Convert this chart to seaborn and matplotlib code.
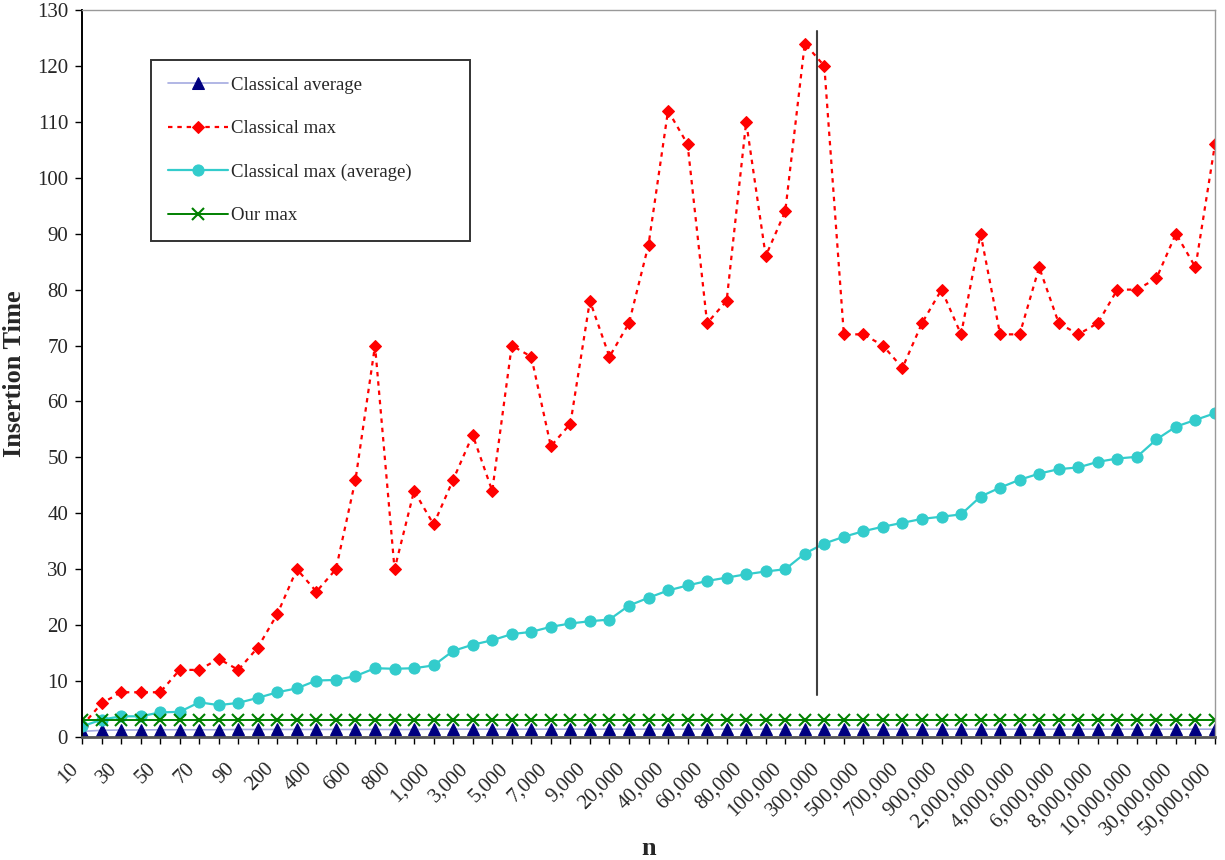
import pandas as pd
import seaborn as sns
import matplotlib.pyplot as plt

# n values on the (categorical) x axis
n_values = [10, 20, 30, 40, 50, 60, 70, 80, 90,
            100, 200, 300, 400, 500, 600, 700, 800, 900,
            1000, 2000, 3000, 4000, 5000, 6000, 7000, 8000, 9000,
            10000, 20000, 30000, 40000, 50000, 60000, 70000, 80000, 90000,
            100000, 200000, 300000, 400000, 500000, 600000, 700000, 800000, 900000,
            1000000, 2000000, 3000000, 4000000, 5000000, 6000000, 7000000, 8000000, 9000000,
            10000000, 20000000, 30000000, 40000000, 50000000]

classical_avg = [1.0, 1.2, 1.25, 1.25, 1.3, 1.3, 1.3, 1.3, 1.35,
                 1.35, 1.35, 1.35, 1.35, 1.35, 1.35, 1.35, 1.35, 1.35,
                 1.4, 1.4, 1.4, 1.4, 1.4, 1.4, 1.4, 1.4, 1.4,
                 1.4, 1.4, 1.4, 1.4, 1.4, 1.4, 1.4, 1.4, 1.4,
                 1.4, 1.4, 1.4, 1.4, 1.4, 1.4, 1.4, 1.4, 1.4,
                 1.4, 1.4, 1.4, 1.4, 1.4, 1.4, 1.4, 1.4, 1.4,
                 1.4, 1.4, 1.4, 1.4, 1.4]

classical_max = [2, 6, 8, 8, 8, 12, 12, 14, 12,
                 16, 22, 30, 26, 30, 46, 70, 30, 44,
                 38, 46, 54, 44, 70, 68, 52, 56, 78,
                 68, 74, 88, 112, 106, 74, 78, 110, 86,
                 94, 124, 120, 72, 72, 70, 66, 74, 80,
                 72, 90, 72, 72, 84, 74, 72, 74, 80,
                 80, 82, 90, 84, 106]

classical_max_avg = [1.9, 3.1, 3.7, 3.7, 4.4, 4.5, 6.2, 5.7, 6.1,
                     7.0, 8.0, 8.7, 10.1, 10.2, 10.9, 12.3, 12.2, 12.3,
                     12.8, 15.4, 16.5, 17.3, 18.4, 18.8, 19.7, 20.3, 20.7,
                     21.0, 23.5, 24.9, 26.2, 27.1, 27.9, 28.5, 29.1, 29.6,
                     30.0, 32.8, 34.6, 35.8, 36.8, 37.6, 38.3, 39.0, 39.4,
                     39.8, 43.0, 44.6, 46.0, 47.1, 47.9, 48.2, 49.2, 49.8,
                     50.1, 53.2, 55.5, 56.7, 57.9]

our_max = [3, 3, 3, 3, 3, 3, 3, 3, 3,
           3, 3, 3, 3, 3, 3, 3, 3, 3,
           3, 3, 3, 3, 3, 3, 3, 3, 3,
           3, 3, 3, 3, 3, 3, 3, 3, 3,
           3, 3, 3, 3, 3, 3, 3, 3, 3,
           3, 3, 3, 3, 3, 3, 3, 3, 3,
           3, 3, 3, 3, 3]

# the vertical divider line (category position, y range)
split_pos = 37.62
split_y = (7.5, 126.2)

df = pd.DataFrame({
    "pos": range(len(n_values)),
    "n": n_values,
    "avg": classical_avg,
    "max": classical_max,
    "max_avg": classical_max_avg,
    "our": our_max,
})

sns.set_style("white")
plt.rcParams["font.family"] = ["Liberation Serif", "DejaVu Serif"]

fig = plt.figure(figsize=(12.25, 8.6), dpi=100)
ax = fig.add_axes([82 / 1225, 1 - 737 / 860, 1133 / 1225, 727 / 860])

sns.lineplot(data=df, x="pos", y="avg", ax=ax, color="#a4aae0", lw=1.2,
             marker="^", markersize=8.5, markerfacecolor="#000080",
             markeredgecolor="#000080", label="Classical average")
sns.lineplot(data=df, x="pos", y="max", ax=ax, color="#ff0000", lw=1.6,
             dashes=(2, 2.2), marker="D", markersize=6.5,
             markeredgecolor="#ff0000", label="Classical max")
sns.lineplot(data=df, x="pos", y="max_avg", ax=ax, color="#33cccc", lw=1.6,
             marker="o", markersize=8, markeredgecolor="#33cccc",
             label="Classical max (average)")
sns.lineplot(data=df, x="pos", y="our", ax=ax, color="#008000", lw=1.4,
             marker="x", markersize=8, markeredgewidth=1.5,
             markeredgecolor="#008000", label="Our max")

ax.plot([split_pos, split_pos], split_y, color="#404040", lw=1.5)

ax.set_xlim(0, len(n_values) - 1)
ax.set_ylim(0, 130)
ax.set_yticks(range(0, 131, 10))
ax.set_xticks(range(len(n_values)))
labels = [f"{v:,}" if i % 2 == 0 else "" for i, v in enumerate(n_values)]
ax.set_xticklabels(labels, rotation=45, ha="right", fontsize=15)
ax.tick_params(axis="y", labelsize=15, length=5, width=1, pad=5,
               left=True, color="#000000")
ax.tick_params(axis="x", length=5, width=1, pad=11, bottom=True,
               color="#000000")

for side in ["top", "right"]:
    ax.spines[side].set_color("#999999")
    ax.spines[side].set_linewidth(1.0)
ax.spines["left"].set_color("#000000")
ax.spines["left"].set_linewidth(1.4)
ax.spines["bottom"].set_color("#555555")
ax.spines["bottom"].set_linewidth(2.0)

ax.set_xlabel("n", fontsize=19, fontweight="bold")
ax.set_ylabel("Insertion Time", fontsize=19, fontweight="bold")
ax.xaxis.set_label_coords(0.5, -0.138)
ax.yaxis.set_label_coords(-0.049, 0.5)

leg = ax.legend(loc="upper left", mode="expand",
                bbox_to_anchor=(69 / 1133, 0, 319 / 1133, (737 - 60) / 727),
                fontsize=13.5, frameon=True, fancybox=False, borderpad=0.9,
                labelspacing=1.4, handlelength=3.2, handletextpad=0.15,
                borderaxespad=0)
leg.get_frame().set_edgecolor("#000000")
leg.get_frame().set_linewidth(1.4)

fig.savefig("out.png", dpi=100)
